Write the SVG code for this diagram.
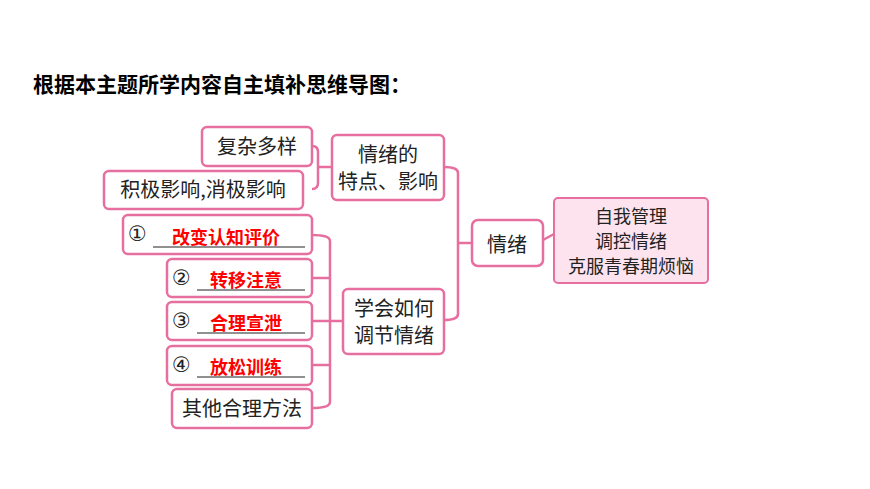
<svg xmlns="http://www.w3.org/2000/svg" width="870" height="489" viewBox="0 0 870 489">
<style>
.b{fill:#fff;stroke:#e66fa0;stroke-width:2.5}
.t{font-family:"Noto Sans CJK SC",sans-serif;font-size:20px;fill:#222}
.p{font-family:"Noto Sans CJK SC",sans-serif;font-size:18px;fill:#222}
.n{font-family:"DejaVu Sans",sans-serif;font-size:21px;fill:#222}
.r{font-family:"Noto Sans CJK SC",sans-serif;font-size:18px;font-weight:bold;fill:#f00}
.c{fill:none;stroke:#e66fa0;stroke-width:2.5}
.u{stroke:#222;stroke-width:1.2}
</style>
<rect width="870" height="489" fill="#fff"/>
<text x="33" y="92" style="font-family:'Noto Sans CJK SC',sans-serif;font-size:21px;font-weight:bold" fill="#000">根据本主题所学内容自主填补思维导图：</text>
<g id="connectors">
<path class="c" d="M312,146 H312 Q318,146 318,152 V183 Q318,189 312,189 M318,167 H332"/>
<path class="c" d="M312,235 Q330,235 330,241 V402 Q330,408 312,408 M312,278 H330 M312,321 H343 M312,365 H330"/>
<path class="c" d="M444,167 Q458,167 458,173 V314 Q458,320 444,320 M458,243 H472"/>
<path class="c" d="M543,240 L554,234"/>
</g>
<g id="n1"><rect class="b" x="202" y="127" width="110" height="39" rx="5"/><text class="t" x="257" y="154" text-anchor="middle">复杂多样</text></g>
<g id="n2"><rect class="b" x="104" y="171" width="199" height="38" rx="5"/><text class="t" x="203" y="197" text-anchor="middle">积极影响,消极影响</text></g>
<g id="n3"><rect class="b" x="332" y="135" width="112" height="65" rx="5"/><text class="t" x="388" y="162" text-anchor="middle">情绪的</text><text class="t" x="388" y="189" text-anchor="middle">特点、影响</text></g>
<g id="n4"><rect class="b" x="123" y="215" width="189" height="39" rx="5"/><text class="n" x="128" y="241">①</text><line class="u" x1="153" y1="247" x2="305" y2="247"/><text class="r" x="172" y="244">改变认知评价</text></g>
<g id="n5"><rect class="b" x="167" y="259" width="145" height="38" rx="5"/><text class="n" x="172" y="285">②</text><line class="u" x1="197" y1="290" x2="305" y2="290"/><text class="r" x="210" y="287">转移注意</text></g>
<g id="n6"><rect class="b" x="167" y="302" width="145" height="38" rx="5"/><text class="n" x="172" y="328">③</text><line class="u" x1="197" y1="333" x2="305" y2="333"/><text class="r" x="210" y="330">合理宣泄</text></g>
<g id="n7"><rect class="b" x="167" y="346" width="145" height="39" rx="5"/><text class="n" x="172" y="372">④</text><line class="u" x1="197" y1="377" x2="305" y2="377"/><text class="r" x="210" y="374">放松训练</text></g>
<g id="n8"><rect class="b" x="172" y="389" width="140" height="39" rx="5"/><text class="t" x="242" y="416" text-anchor="middle">其他合理方法</text></g>
<g id="n9"><rect class="b" x="343" y="289" width="101" height="65" rx="5"/><text class="t" x="394" y="316" text-anchor="middle">学会如何</text><text class="t" x="394" y="343" text-anchor="middle">调节情绪</text></g>
<g id="n10"><rect class="b" x="472" y="220" width="71" height="46" rx="6" fill="#fff5f9"/><text class="t" x="507" y="252" text-anchor="middle" font-size="23">情绪</text></g>
<g id="n11"><rect class="b" x="554" y="198" width="154" height="85" rx="4" style="fill:#fde3ee;stroke-width:2"/><text class="p" x="631" y="223" text-anchor="middle">自我管理</text><text class="p" x="631" y="248" text-anchor="middle">调控情绪</text><text class="p" x="631" y="273" text-anchor="middle">克服青春期烦恼</text></g>
</svg>
